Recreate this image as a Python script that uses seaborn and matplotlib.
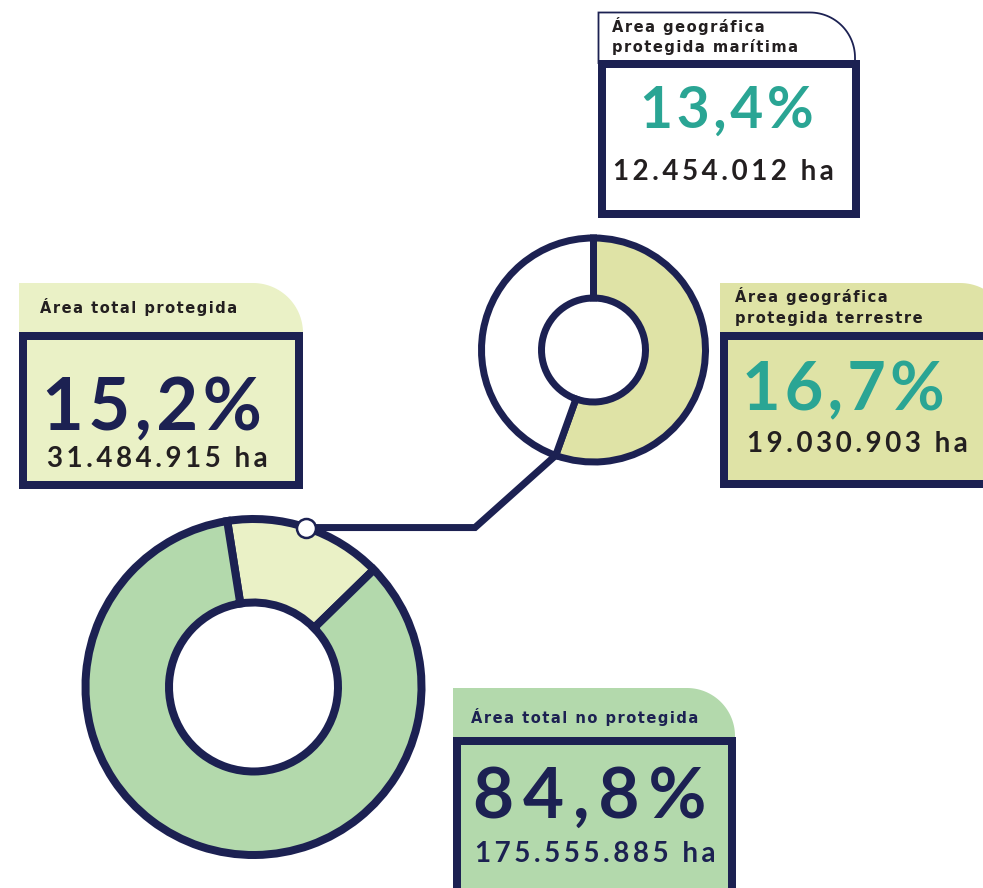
import numpy as np
import matplotlib
matplotlib.use("Agg")
import matplotlib.pyplot as plt
from matplotlib.patches import Rectangle, PathPatch
from matplotlib.path import Path
import seaborn as sns

# data
total_labels = ["Área total protegida", "Área total no protegida"]
total_pct = [15.2, 84.8]
total_ha = ["31.484.915 ha", "175.555.885 ha"]
prot_labels = ["Área geográfica\nprotegida terrestre", "Área geográfica\nprotegida marítima"]
prot_pct = [16.7, 13.4]
prot_ha = ["19.030.903 ha", "12.454.012 ha"]

NAVY = "#1c2152"
TEAL = "#2aa594"
INK = "#231f20"
PALE = "#eaf1c6"
OLIVE = "#dfe3a6"
GREEN = "#b3d9ac"

W, H = 983, 888

sns.set_theme(style="white")
plt.rcParams['font.family'] = ['DejaVu Sans']


def px(v):
    return v * 72 / 100


def Y(y):
    return H - y


def pct(v):
    return f"{v:.1f}%".replace(".", ",")


def spaced(s, sep="\u200a"):
    return sep.join(s)


fig = plt.figure(figsize=(9.83, 8.88), dpi=100)
ax = fig.add_axes([0, 0, 1, 1])

# big donut: total protected vs not protected
big_c = (253.5, Y(687))
big_r = 168
big_start = 99
ax.pie(total_pct, colors=[PALE, GREEN], startangle=big_start, counterclock=False,
       radius=big_r, center=big_c,
       wedgeprops=dict(width=83.5, edgecolor=NAVY, linewidth=px(8)))

# small donut: terrestrial vs maritime
small_c = (593.5, Y(350))
small_r = 112
ax.pie(prot_pct, colors=[OLIVE, "white"], startangle=90, counterclock=False,
       radius=small_r, center=small_c,
       wedgeprops=dict(width=60, edgecolor=NAVY, linewidth=px(7)))

# connector from the protected slice to the small donut
a1 = np.radians(big_start - 360 * total_pct[0] / sum(total_pct) / 2)
p1 = (big_c[0] + big_r * np.cos(a1), big_c[1] + big_r * np.sin(a1))
a2 = np.radians(90 - 360 * prot_pct[0] / sum(prot_pct))
p2 = (small_c[0] + small_r * np.cos(a2), small_c[1] + small_r * np.sin(a2))
elbow = (475, p1[1])
ax.plot([p1[0], elbow[0], p2[0]], [p1[1], elbow[1], p2[1]], color=NAVY,
        lw=px(7), solid_joinstyle="miter", zorder=0)
ax.plot(*p1, "o", ms=px(19), mfc="white", mec=NAVY, mew=px(2.5), zorder=5)


def tab(x0, y0, x1, y1, r, fc, ec="none", lw=0):
    t, b = Y(y0), Y(y1)
    th = np.linspace(np.pi / 2, 0, 30)
    pts = [(x0, b), (x0, t)]
    pts += [(x1 - r + r * np.cos(a), t - r + r * np.sin(a)) for a in th]
    pts += [(x1, b)]
    codes = [Path.MOVETO] + [Path.LINETO] * (len(pts) - 1)
    ax.add_patch(PathPatch(Path(pts, codes), fc=fc, ec=ec, lw=lw, zorder=2))


def box(x0, y0, x1, y1, fc):
    ax.add_patch(Rectangle((x0, Y(y1)), x1 - x0, y1 - y0, fc=fc, ec=NAVY,
                           lw=px(8), zorder=3, joinstyle="miter"))


lab_kw = dict(fontsize=10.5, fontweight="bold", color=INK, zorder=4)
big_kw = dict(fontweight="bold", family=["Lato", "DejaVu Sans"], zorder=4)
ha_kw = dict(fontsize=20, fontweight="bold", family=["Lato", "DejaVu Sans"], color=INK, zorder=4)
WIDE = "\u200a\u200a"

# maritime
tab(598.5, 12.5, 855, 64, 45, "white", NAVY, px(1.8))
box(602, 64, 856, 214, "white")
l1, l2 = prot_labels[1].split("\n")
ax.text(612, Y(32), spaced(l1), **lab_kw)
ax.text(612, Y(52), spaced(l2), **lab_kw)
ax.text(640, Y(128), spaced(pct(prot_pct[1])), fontsize=41, color=TEAL, **big_kw)
ax.text(613, Y(180), spaced(prot_ha[1], WIDE), **ha_kw)

# terrestrial
tab(720, 283, 1010, 336, 50, OLIVE)
box(724, 336, 1000, 484, OLIVE)
l1, l2 = prot_labels[0].split("\n")
ax.text(735, Y(302), spaced(l1), **lab_kw)
ax.text(735, Y(323), spaced(l2), **lab_kw)
ax.text(742, Y(410), spaced(pct(prot_pct[0])), fontsize=48, color=TEAL, **big_kw)
ax.text(747, Y(452), spaced(prot_ha[0], WIDE), **ha_kw)

# total protected
tab(19, 283, 303, 336, 50, PALE)
box(23, 336, 299, 485, PALE)
ax.text(40, Y(313), spaced(total_labels[0]), **lab_kw)
ax.text(42, Y(430), spaced(pct(total_pct[0])), fontsize=52, color=NAVY, **big_kw)
ax.text(47, Y(467), spaced(total_ha[0], WIDE), **ha_kw)

# total not protected
tab(453, 688, 735, 741, 48, GREEN)
box(457, 741, 732, 900, GREEN)
ax.text(471, Y(723), spaced(total_labels[1]), **{**lab_kw, "color": NAVY})
ax.text(473, Y(818), spaced(pct(total_pct[1]), "\u2009"), fontsize=51, color=NAVY, **big_kw)
ax.text(475, Y(862), spaced(total_ha[1], WIDE), **{**ha_kw, "color": NAVY})

ax.set_xlim(0, W)
ax.set_ylim(0, H)
ax.set_aspect("equal")
ax.axis("off")
fig.savefig("out.png", dpi=100, facecolor="white")
